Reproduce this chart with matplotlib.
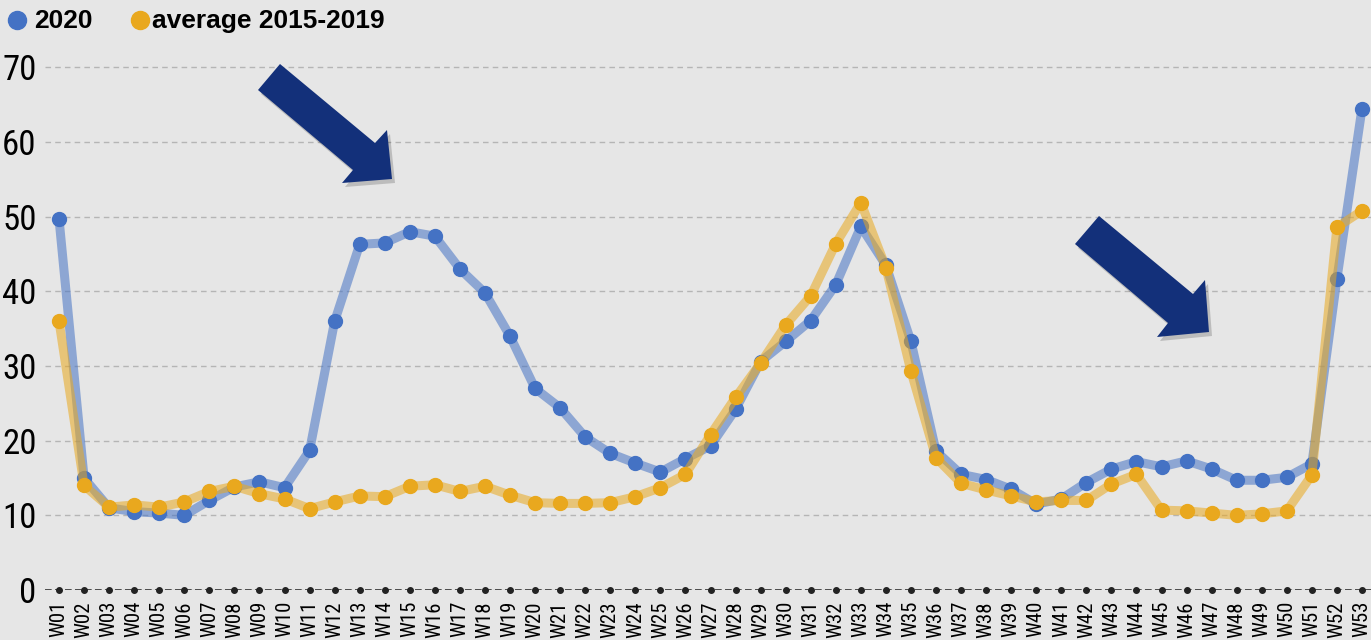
import numpy as np
import matplotlib
matplotlib.use("Agg")
import matplotlib.pyplot as plt
from matplotlib.patches import Polygon
from matplotlib.lines import Line2D

weeks = ["W%02d" % i for i in range(1, 54)]

deaths_2020 = [49.7, 15.0, 11.0, 10.5, 10.3, 10.0, 12.0, 13.8, 14.5, 13.7,
               18.7, 36.0, 46.3, 46.5, 48.0, 47.4, 43.0, 39.8, 34.0, 27.0,
               24.4, 20.5, 18.3, 17.0, 15.8, 17.6, 19.3, 24.2, 30.6, 33.3,
               36.1, 40.9, 48.7, 43.5, 33.3, 18.6, 15.5, 14.8, 13.5, 11.5,
               12.2, 14.4, 16.2, 17.2, 16.5, 17.3, 16.2, 14.7, 14.7, 15.1,
               16.9, 41.7, 64.5]

avg_2015_2019 = [36.0, 14.0, 11.1, 11.4, 11.1, 11.8, 13.2, 13.9, 12.9, 12.2,
                 10.9, 11.8, 12.6, 12.5, 13.9, 14.1, 13.2, 13.9, 12.7, 11.7,
                 11.6, 11.6, 11.7, 12.5, 13.7, 15.5, 20.8, 25.8, 30.4, 35.5,
                 39.4, 46.4, 51.9, 43.2, 29.3, 17.7, 14.3, 13.4, 12.6, 11.8,
                 12.0, 12.0, 14.2, 15.5, 10.7, 10.6, 10.3, 10.0, 10.2, 10.6,
                 15.4, 48.6, 50.8]

y_ticks = [0, 10, 20, 30, 40, 50, 60, 70]
legend_labels = ["2020", "average 2015-2019"]

BG = "#e6e6e6"
BLUE = "#4472c4"
ORANGE = "#e9a81e"
NAVY = "#13307a"
narrow = ["DejaVu Sans Condensed", "Liberation Sans Narrow", "Roboto Condensed", "Roboto", "DejaVu Sans"]

W, H = 1371, 640
fig = plt.figure(figsize=(W / 100, H / 100), dpi=100, facecolor=BG)
ax = fig.add_axes([45 / W, 50 / H, 1 - 45 / W, 530 / H])
ax.set_facecolor(BG)

x = np.arange(len(weeks))

# thick translucent lines with solid dots
ax.plot(x, deaths_2020, color=BLUE, lw=6.5, alpha=0.55, solid_joinstyle="round", zorder=3)
ax.plot(x, deaths_2020, ls="none", marker="o", ms=10, color=BLUE, zorder=4)
ax.plot(x, avg_2015_2019, color=ORANGE, lw=6.5, alpha=0.55, solid_joinstyle="round", zorder=5)
ax.plot(x, avg_2015_2019, ls="none", marker="o", ms=10, color=ORANGE, zorder=6)

# x axis: dashed dark line with a dot at every week
ax.axhline(0, color="#333333", lw=1.2, ls=(0, (4, 2)), zorder=2)
ax.plot(x, np.zeros(len(x)), ls="none", marker="o", ms=4, color="#222222", clip_on=False, zorder=2)

ax.set_xlim(-0.56, 52.36)
ax.set_ylim(0, 71)
ax.set_yticks(y_ticks)
ax.set_yticklabels([str(v) for v in y_ticks], fontsize=25, family=narrow, stretch="condensed")
ax.set_xticks(x)
ax.set_xticklabels(weeks, rotation=90, fontsize=15, family=narrow, stretch="condensed")
ax.tick_params(length=0)
ax.tick_params(axis="y", pad=6)
ax.tick_params(axis="x", pad=8)
for s in ax.spines.values():
    s.set_visible(False)
ax.grid(axis="y", color="#b5b5b5", ls=(0, (4, 3)), lw=1)
ax.set_axisbelow(True)

# legend drawn by hand at the top left
leg_font = {"family": ["Liberation Sans", "DejaVu Sans"], "weight": "bold", "size": 19}
for cx, tx, col, lab in [(17, 34, BLUE, legend_labels[0]), (140, 152, ORANGE, legend_labels[1])]:
    fig.add_artist(Line2D([cx / W], [1 - 20 / H], transform=fig.transFigure, ls="none",
                          marker="o", ms=13, color=col))
    fig.text(tx / W, 1 - 21 / H, lab, ha="left", va="center", **leg_font)

# arrows (figure pixel outlines)
arrows = [
    [(280, 64), (375, 143), (387, 130), (392, 179), (342, 183), (353, 170), (258, 90)],
    [(1099, 216), (1193, 294), (1205, 280), (1209, 332), (1157, 337), (1168, 323), (1075, 244)],
]
for pts in arrows:
    shadow = [((px + 3) / W, 1 - (py + 4) / H) for px, py in pts]
    fig.patches.append(Polygon(shadow, closed=True, transform=fig.transFigure,
                               facecolor="#000000", alpha=0.18, edgecolor="none", zorder=8))
    poly = [(px / W, 1 - py / H) for px, py in pts]
    fig.patches.append(Polygon(poly, closed=True, transform=fig.transFigure,
                               facecolor=NAVY, edgecolor="none", zorder=9))

fig.savefig("out.png", dpi=100, facecolor=BG)
